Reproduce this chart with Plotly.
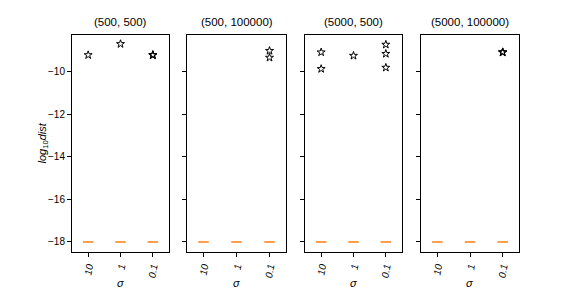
import plotly.graph_objects as go

W, H = 576, 288
OFF = 8  # page body margin in the browser

titles = ["(500, 500)", "(500, 100000)", "(5000, 500)", "(5000, 100000)"]
sigma_labels = ["10", "1", "0.1"]

# medians (boxes collapse to a single value) per panel, per sigma
medians = [
    [-18.0, -18.0, -18.0],
    [-18.0, -18.0, -18.0],
    [-18.0, -18.0, -18.0],
    [-18.0, -18.0, -18.0],
]

# outliers (fliers) per panel, per sigma
fliers_p1 = [[-9.23], [-8.71], [-9.22, -9.24, -9.23]]
fliers_p2 = [[], [], [-9.03, -9.35]]
fliers_p3 = [[-9.10, -9.88], [-9.26], [-8.74, -9.17, -9.82]]
fliers_p4 = [[], [], [-9.10, -9.11, -9.09]]
fliers = [fliers_p1, fliers_p2, fliers_p3, fliers_p4]

y_range = [-18.47, -8.29]
y_ticks = [-10, -12, -14, -16, -18]

# panel pixel extents (in the window)
px_left = [72, 187, 305, 421]
px_right = [169, 286, 402, 519]
top_px, bot_px = 35, 252


def fx_(px):
    return (px - OFF) / W


def fy_(py):
    return 1 - (py - OFF) / H


FONT = "Liberation Sans, Arial, sans-serif"
fig = go.Figure()

for i in range(4):
    xa = "x" if i == 0 else f"x{i+1}"
    ya = "y" if i == 0 else f"y{i+1}"
    fx, fy = [], []
    for j, lab in enumerate(sigma_labels):
        for v in fliers[i][j]:
            fx.append(lab)
            fy.append(v)
    fig.add_trace(go.Scatter(
        x=sigma_labels, y=medians[i], mode="markers", xaxis=xa, yaxis=ya,
        marker=dict(symbol="line-ew", size=7.5, line=dict(color="#ff7f0e", width=1.5)),
        showlegend=False, hoverinfo="skip"))
    fig.add_trace(go.Scatter(
        x=fx, y=fy, mode="markers", xaxis=xa, yaxis=ya,
        marker=dict(symbol="star-open", size=6, color="black", line=dict(color="black", width=1)),
        showlegend=False))

layout = dict(
    width=W, height=H, margin=dict(l=0, r=0, t=0, b=0),
    paper_bgcolor="white", plot_bgcolor="white",
    font=dict(family=FONT, size=10, color="black"),
    showlegend=False,
)
annotations = []
for i in range(4):
    xk = "xaxis" if i == 0 else f"xaxis{i+1}"
    yk = "yaxis" if i == 0 else f"yaxis{i+1}"
    dom_x = [fx_(px_left[i]), fx_(px_right[i])]
    dom_y = [fy_(bot_px), fy_(top_px)]
    layout[xk] = dict(
        domain=dom_x, anchor="y" if i == 0 else f"y{i+1}",
        type="category", categoryorder="array", categoryarray=sigma_labels,
        range=[-0.5, 2.5],
        tickmode="array", tickvals=sigma_labels,
        ticktext=[f"<i>{s}</i>" for s in sigma_labels],
        tickangle=-80, ticks="outside", ticklen=4, tickcolor="black", tickwidth=1,
        showline=True, linecolor="black", linewidth=1, mirror=True,
        showgrid=False, zeroline=False, tickfont=dict(size=10),
    )
    layout[yk] = dict(
        domain=dom_y, anchor="x" if i == 0 else f"x{i+1}",
        range=y_range, tickmode="array", tickvals=y_ticks,
        ticktext=[f"\u2212{abs(t)}" for t in y_ticks],
        showticklabels=(i == 0),
        ticks="outside", ticklen=4, tickcolor="black", tickwidth=1,
        showline=True, linecolor="black", linewidth=1, mirror=True,
        showgrid=False, zeroline=False, tickfont=dict(size=10),
    )
    annotations.append(dict(
        text=titles[i], xref="paper", yref="paper",
        x=(dom_x[0] + dom_x[1]) / 2, y=dom_y[1], yshift=5,
        xanchor="center", yanchor="bottom", showarrow=False,
        font=dict(size=11.5, family=FONT)))
    annotations.append(dict(
        text="<i>σ</i>", xref="paper", yref="paper",
        x=(dom_x[0] + dom_x[1]) / 2, y=fy_(283),
        xanchor="center", yanchor="middle", showarrow=False,
        font=dict(size=11, family=FONT)))

annotations.append(dict(
    text="<i>log</i><sub>10</sub><i>dist</i>", xref="paper", yref="paper",
    x=fx_(42), y=fy_((top_px + bot_px) / 2), textangle=-90,
    xanchor="center", yanchor="middle", showarrow=False,
    font=dict(size=11, family=FONT)))
layout["annotations"] = annotations
fig.update_layout(**layout)
fig.write_html("out.html")
